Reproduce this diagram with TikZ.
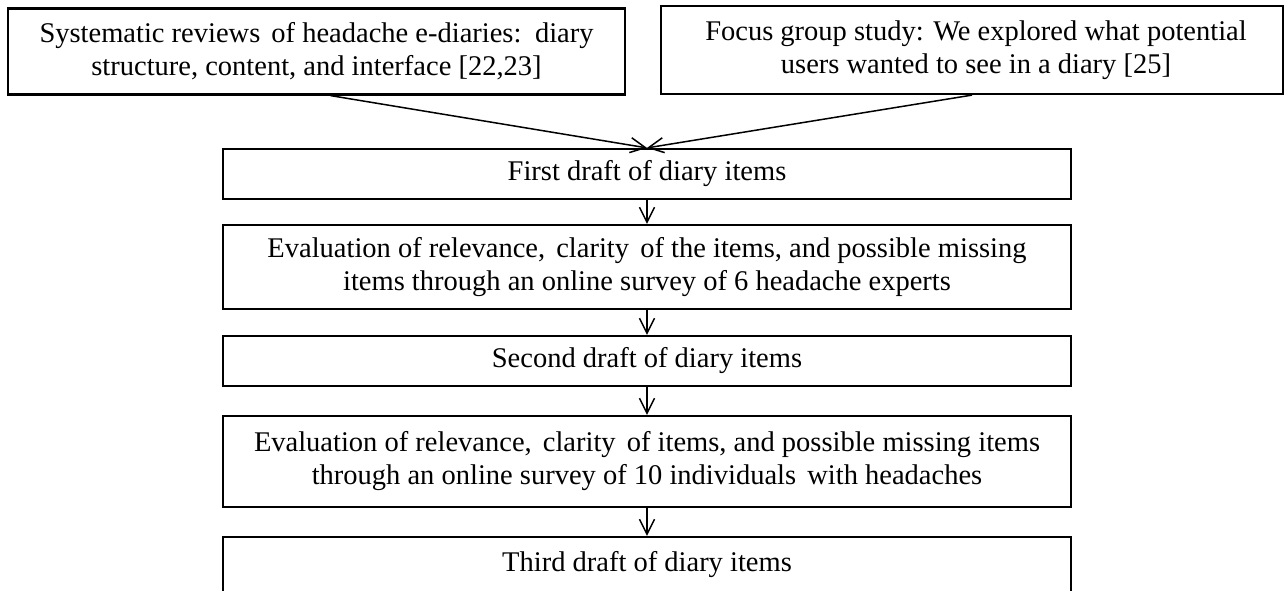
\documentclass[tikz,border=0pt]{standalone}
\usepackage{fontspec}
\setmainfont{Liberation Serif}
\usetikzlibrary{arrows.meta}
% slightly wider gap between some words
\newcommand{\wgap}{\hspace{0.14em}}
\begin{document}
\begin{tikzpicture}[x=1pt,y=-1pt,
  box/.style={draw, line width=2.2pt, inner sep=0pt, align=center,
              font=\fontsize{28.5}{33}\selectfont},
  flow/.style={line width=1.5pt, -{Straight Barb[length=15pt,width=15pt]}}]
\useasboundingbox (0,0) rectangle (1288,590);
\clip (0,0) rectangle (1288,590);

% sources
\node[box, minimum width=617pt, minimum height=86pt] (rev) at (316.5,51.5)
  {Systematic reviews \wgap of headache e-diaries: \wgap diary\\structure, content, and interface [22,23]};
\node[box, minimum width=622pt, minimum height=88pt] (focus) at (972,50)
  {\hspace*{8pt}Focus group study: We explored what potential\\\hspace*{8pt}users wanted to see in a diary [25]};

% development steps
\node[box, minimum width=848pt, minimum height=50pt] (d1) at (647,174)
  {First draft of diary items};
\node[box, minimum width=848pt, minimum height=84pt] (ev1) at (647,267)
  {Evaluation of relevance, \wgap clarity \wgap of the items, and possible missing\\items through an online survey of 6 headache experts};
\node[box, minimum width=848pt, minimum height=50pt] (d2) at (647,361)
  {Second draft of diary items};
\node[box, minimum width=848pt, minimum height=91pt] (ev2) at (647,461.5)
  {Evaluation of relevance, \wgap clarity \wgap of items, and possible missing items\\through an online survey of 10 individuals \wgap with headaches};
\node[box, minimum width=848pt, minimum height=56pt] (d3) at (647,565)
  {Third draft of diary items};

% connectors
\draw[flow] ([xshift=14pt]rev.south) -- (d1.north);
\draw[flow] (focus.south) -- (d1.north);
\draw[flow] (d1) -- (ev1);
\draw[flow] (ev1) -- (d2);
\draw[flow] (d2) -- (ev2);
\draw[flow] (ev2) -- (d3);
\end{tikzpicture}
\end{document}
